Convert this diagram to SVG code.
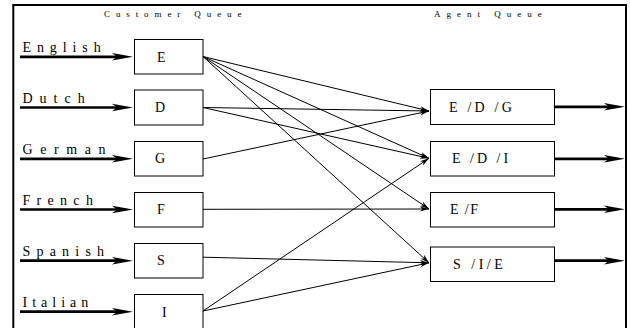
<svg xmlns="http://www.w3.org/2000/svg" width="630" height="328" viewBox="0 0 630 328">
<style>
  .box { fill: #fff; stroke: #000; stroke-width: 1; }
  .t { font-family: "Liberation Serif", "Times New Roman", serif; font-size: 14px; fill: #000; }
  .title { font-family: "Liberation Serif", "Times New Roman", serif; font-size: 9px; fill: #000; }
  .thick { stroke: #000; stroke-width: 2.7; fill: none; marker-end: url(#big); }
  .thin { stroke: #000; stroke-width: 1; fill: none; marker-end: url(#small); }
</style>
<defs>
  <marker id="big" markerUnits="userSpaceOnUse" markerWidth="40" markerHeight="20" viewBox="-20 -10 40 20" refX="0" refY="0" orient="auto" overflow="visible">
    <path d="M12,0 L-9,-3.7 L-4,0 L-9,3.7 Z" fill="#000"/>
  </marker>
  <marker id="small" markerUnits="userSpaceOnUse" markerWidth="20" markerHeight="10" viewBox="-10 -5 20 10" refX="0" refY="0" orient="auto" overflow="visible">
    <path d="M0,0 L-9,-2.6 L-6.5,0 L-9,2.6 Z" fill="#000"/>
  </marker>
</defs>
<rect x="0" y="0" width="630" height="328" fill="#fff"/>
<rect id="frame" x="13.3" y="5" width="612.7" height="340" fill="none" stroke="#000" stroke-width="2"/>
<text class="title" x="104" y="17" letter-spacing="5.9">Customer Queue</text>
<text class="title" x="434" y="17" letter-spacing="6">Agent Queue</text>

<g id="connectors">
  <line class="thick" x1="20" y1="56.8" x2="121" y2="56.8"/>
  <line class="thick" x1="20" y1="107.5" x2="121" y2="107.5"/>
  <line class="thick" x1="20" y1="158.8" x2="121" y2="158.8"/>
  <line class="thick" x1="20" y1="209.5" x2="121" y2="209.5"/>
  <line class="thick" x1="20" y1="260.7" x2="121" y2="260.7"/>
  <line class="thick" x1="20" y1="311.7" x2="121" y2="311.7"/>

  <line class="thick" x1="555" y1="106.8" x2="613" y2="106.8"/>
  <line class="thick" x1="555" y1="158.8" x2="613" y2="158.8"/>
  <line class="thick" x1="555" y1="209.3" x2="613" y2="209.3"/>
  <line class="thick" x1="555" y1="260.7" x2="613" y2="260.7"/>

  <line class="thin" x1="203" y1="56.5" x2="429" y2="111"/>
  <line class="thin" x1="203" y1="56.5" x2="429" y2="158.3"/>
  <line class="thin" x1="203" y1="56.5" x2="429" y2="209"/>
  <line class="thin" x1="203" y1="56.5" x2="429" y2="262.8"/>
  <line class="thin" x1="203" y1="107.5" x2="429" y2="111"/>
  <line class="thin" x1="203" y1="107.5" x2="429" y2="158.3"/>
  <line class="thin" x1="203" y1="159" x2="429" y2="111"/>
  <line class="thin" x1="203" y1="209.3" x2="429" y2="209"/>
  <line class="thin" x1="203" y1="257.2" x2="429" y2="262.8"/>
  <line class="thin" x1="203" y1="311" x2="429" y2="158.3"/>
  <line class="thin" x1="203" y1="311" x2="429" y2="262.8"/>
</g>

<text class="t" x="22.5" y="52" letter-spacing="5.9">English</text>
<text class="t" x="22.5" y="103" letter-spacing="7">Dutch</text>
<text class="t" x="22.5" y="154" letter-spacing="7.6">German</text>
<text class="t" x="22.5" y="205" letter-spacing="6.3">French</text>
<text class="t" x="22.5" y="255.5" letter-spacing="6.2">Spanish</text>
<text class="t" x="22.5" y="307" letter-spacing="5">Italian</text>

<g id="node-E"><rect class="box" x="134.5" y="39.5" width="68.5" height="34.5"/><text class="t" x="157" y="61.6">E</text></g>
<g id="node-D"><rect class="box" x="134.5" y="90" width="68.5" height="35"/><text class="t" x="155" y="112">D</text></g>
<g id="node-G"><rect class="box" x="134.5" y="141.5" width="68.5" height="34.5"/><text class="t" x="155" y="163.4">G</text></g>
<g id="node-F"><rect class="box" x="134.5" y="192.5" width="68.5" height="34.5"/><text class="t" x="157" y="214.4">F</text></g>
<g id="node-S"><rect class="box" x="134.5" y="243.5" width="68.5" height="34.5"/><text class="t" x="157" y="265.2">S</text></g>
<g id="node-I"><rect class="box" x="134.5" y="294.5" width="68.5" height="40"/><text class="t" x="162" y="316.6">I</text></g>

<g id="node-EDG"><rect class="box" x="430.5" y="89.5" width="124" height="35"/><text class="t" x="449" y="112" letter-spacing="3.2">E /D /G</text></g>
<g id="node-EDI"><rect class="box" x="430.5" y="141.5" width="124" height="34.5"/><text class="t" x="452" y="163.2" letter-spacing="3">E /D /I</text></g>
<g id="node-EF"><rect class="box" x="430.5" y="192.5" width="124" height="34.5"/><text class="t" x="450" y="214.3" letter-spacing="1.4">E /F</text></g>
<g id="node-SIE"><rect class="box" x="430.5" y="247" width="124" height="34.5"/><text class="t" x="453" y="269" letter-spacing="3.5">S /I/E</text></g>
</svg>
